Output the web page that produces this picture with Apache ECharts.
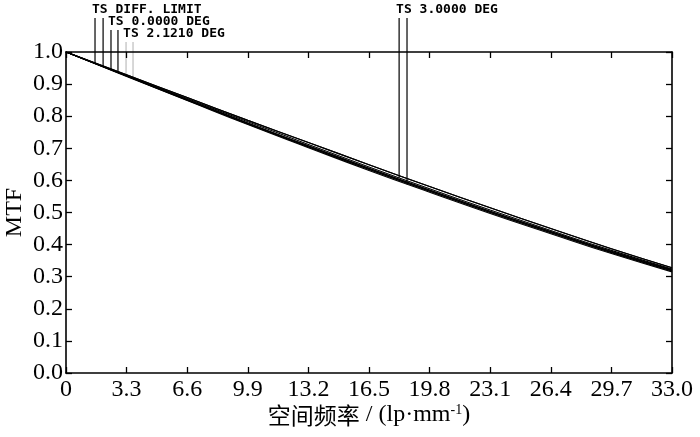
<!DOCTYPE html>
<html>
<head>
<meta charset="utf-8">
<script src="https://cdn.jsdelivr.net/npm/echarts@6/dist/echarts.min.js"></script>
<style>
  html, body { margin: 0; padding: 0; background: #fff; }
  #chart { width: 700px; height: 437px; }
</style>
</head>
<body>
<div id="chart"></div>
<script>
// MTF 曲线数据
var freq = [0, 3.3, 6.6, 9.9, 13.2, 16.5, 19.8, 23.1, 26.4, 29.7, 33.0];
var diffLimit = [1.000, 0.929, 0.858, 0.787, 0.718, 0.649, 0.581, 0.515, 0.450, 0.387, 0.328];
var deg0T = [1.000, 0.925, 0.850, 0.776, 0.704, 0.634, 0.566, 0.500, 0.437, 0.375, 0.318];
var deg0S = [1.000, 0.926, 0.852, 0.778, 0.707, 0.637, 0.569, 0.503, 0.440, 0.378, 0.321];
var deg2T = [1.000, 0.925, 0.851, 0.777, 0.705, 0.635, 0.567, 0.501, 0.438, 0.376, 0.319];
var deg2S = [1.000, 0.926, 0.852, 0.779, 0.708, 0.638, 0.570, 0.504, 0.441, 0.379, 0.322];
var deg3T = [1.000, 0.927, 0.855, 0.783, 0.712, 0.642, 0.574, 0.508, 0.444, 0.382, 0.324];
var deg3S = [1.000, 0.924, 0.849, 0.774, 0.702, 0.631, 0.563, 0.497, 0.434, 0.372, 0.315];

// 图例标注：文字 + 指向曲线的 T/S 竖线所在频率
var tags = [
    {text: 'TS DIFF. LIMIT', at: [1.58, 2.02], curves: [diffLimit, diffLimit], row: 0, grey: false},
    {text: 'TS 0.0000 DEG', at: [2.45, 2.83], curves: [deg0T, deg0S], row: 1, grey: false},
    {text: 'TS 2.1210 DEG', at: [3.27, 3.65], curves: [deg2T, deg2S], row: 2, grey: true},
    {text: 'TS 3.0000 DEG', at: [18.14, 18.57], curves: [deg3T, deg3S], row: 0, grey: false}
];

function pairs(ys) {
    return freq.map(function (f, i) { return [f, ys[i]]; });
}
function interp(ys, f) {
    for (var i = 1; i < freq.length; i++) {
        if (f <= freq[i]) {
            var t = (f - freq[i - 1]) / (freq[i] - freq[i - 1]);
            return ys[i - 1] + t * (ys[i] - ys[i - 1]);
        }
    }
    return ys[ys.length - 1];
}

var serif = '"Liberation Serif", "Times New Roman", serif';
var cjk = '"Noto Sans CJK SC", sans-serif';
var chart = echarts.init(document.getElementById('chart'));

function mkSeries(ys) {
    return {
        type: 'line', data: pairs(ys), showSymbol: false, smooth: true,
        lineStyle: {color: '#000', width: 1.1}, animation: false
    };
}

var axisLine = {show: true, onZero: false, lineStyle: {color: '#000', width: 1.6}};
var tick = {show: true, inside: true, length: 6, lineStyle: {color: '#000', width: 1.3}};

option = {
    animation: false,
    grid: {left: 66, right: 28, top: 52, bottom: 64, containLabel: false, outerBoundsMode: 'none'},
    xAxis: [{
        type: 'value', min: 0, max: 33, interval: 3.3,
        name: '{cn|空间频率} / (lp·mm{sup|-1})',
        nameLocation: 'middle', nameGap: 30, nameMoveOverlap: false,
        nameTextStyle: {
            color: '#000', fontSize: 24, fontFamily: serif,
            rich: {
                cn: {fontSize: 23, fontFamily: cjk, color: '#000'},
                sup: {fontSize: 14, verticalAlign: 'top', fontFamily: serif, color: '#000'}
            }
        },
        axisLine: axisLine, axisTick: tick, splitLine: {show: false},
        axisLabel: {
            color: '#000', fontSize: 24, fontFamily: serif, margin: 5,
            formatter: function (v) { return v === 0 ? '0' : v.toFixed(1); }
        }
    }, {
        type: 'value', min: 0, max: 33, interval: 3.3, position: 'top',
        axisLine: axisLine, axisTick: tick, axisLabel: {show: false}, splitLine: {show: false}
    }],
    yAxis: [{
        type: 'value', min: 0, max: 1, interval: 0.1,
        name: 'MTF', nameLocation: 'middle', nameGap: 39, nameMoveOverlap: false,
        nameTextStyle: {color: '#000', fontSize: 24, fontFamily: serif},
        axisLine: axisLine, axisTick: tick, splitLine: {show: false},
        axisLabel: {
            color: '#000', fontSize: 24, fontFamily: serif, margin: 3,
            formatter: function (v) { return v.toFixed(1); }
        }
    }, {
        type: 'value', min: 0, max: 1, interval: 0.1, position: 'right',
        axisLine: axisLine, axisTick: tick, axisLabel: {show: false}, splitLine: {show: false}
    }],
    series: [diffLimit, diffLimit, deg0T, deg0S, deg2T, deg2S, deg3T, deg3S].map(mkSeries)
};
chart.setOption(option);

// 标注文字和竖线，端点经由坐标轴换算
var rowY = [11, 23, 35];
var graphics = [];
tags.forEach(function (tg) {
    var colr = tg.grey ? '#bdbdbd' : '#000';
    var x0 = chart.convertToPixel({gridIndex: 0}, [tg.at[0], 1])[0];
    graphics.push({
        type: 'text', left: x0 - 3, top: rowY[tg.row] - 8, silent: true,
        style: {text: tg.text, fill: '#000', font: 'bold 13px "DejaVu Sans Mono", monospace'}
    });
    tg.at.forEach(function (f, k) {
        var p = chart.convertToPixel({gridIndex: 0}, [f, interp(tg.curves[k], f)]);
        graphics.push({
            type: 'line', silent: true,
            shape: {x1: p[0], y1: rowY[tg.row] + 7, x2: p[0], y2: p[1]},
            style: {stroke: colr, lineWidth: 1.2}
        });
    });
});
chart.setOption({graphic: graphics});
</script>
</body>
</html>
